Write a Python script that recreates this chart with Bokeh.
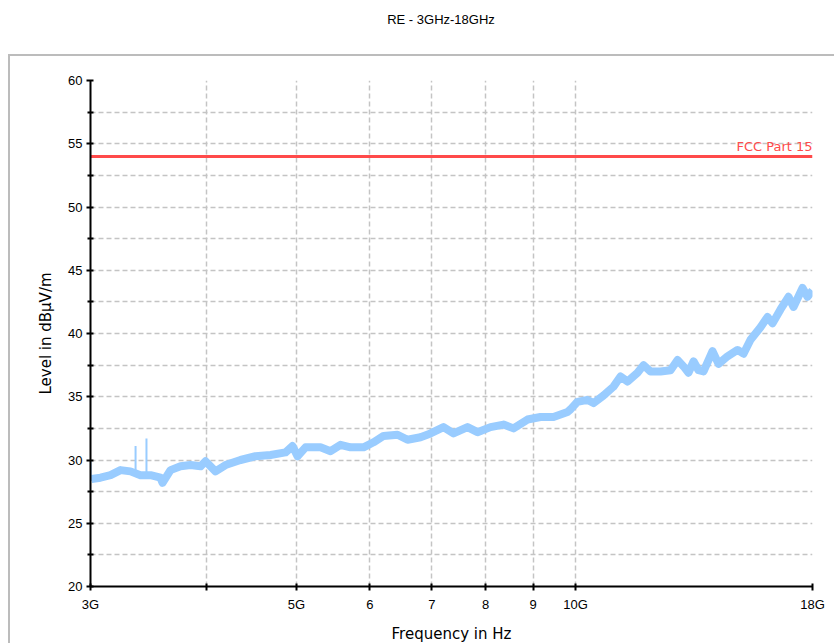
from bokeh.plotting import figure
from bokeh.models import Div, FixedTicker, Label, Range1d
from bokeh.layouts import column
from bokeh.embed import file_html
from bokeh.resources import INLINE

# ---- data ----
title_text = "RE - 3GHz-18GHz"
freq_ghz = [3.000, 3.0075, 3.075, 3.153, 3.232, 3.313, 3.396, 3.482, 3.569, 3.587,
            3.659, 3.751, 3.845, 3.942, 3.991, 4.091, 4.194, 4.353, 4.518, 4.690,
            4.867, 4.953, 5.015, 5.115, 5.309, 5.443, 5.579, 5.720, 5.907, 6.056,
            6.208, 6.427, 6.589, 6.805, 6.976, 7.204, 7.385, 7.646, 7.838, 8.095,
            8.361, 8.571, 8.874, 9.165, 9.465, 9.800, 9.873, 10.046, 10.299, 10.453,
            10.716, 10.985, 11.178, 11.374, 11.660, 11.835, 12.042, 12.345, 12.655, 12.877,
            13.070, 13.233, 13.398, 13.565, 13.735, 14.045, 14.256, 14.578, 14.944, 15.168,
            15.434, 15.822, 16.099, 16.300, 16.626, 16.959, 17.171, 17.559, 17.778, 18.000]
level_dbuv = [28.4, 28.5, 28.6, 28.8, 29.2, 29.1, 28.8, 28.8, 28.6, 28.2,
              29.2, 29.5, 29.6, 29.5, 29.9, 29.1, 29.6, 30.0, 30.3, 30.4,
              30.6, 31.1, 30.3, 31.0, 31.0, 30.7, 31.2, 31.0, 31.0, 31.4,
              31.9, 32.0, 31.6, 31.8, 32.1, 32.6, 32.1, 32.6, 32.2, 32.6,
              32.8, 32.5, 33.2, 33.4, 33.4, 33.8, 34.0, 34.6, 34.75, 34.5,
              35.1, 35.8, 36.6, 36.2, 36.9, 37.5, 37.0, 37.0, 37.1, 37.9,
              37.4, 36.9, 37.8, 37.1, 37.0, 38.6, 37.6, 38.2, 38.7, 38.4,
              39.5, 40.5, 41.3, 40.8, 41.9, 42.9, 42.1, 43.6, 42.9, 43.4]
spike_freq = [3.0, 3.355, 3.447]
spike_top = [30.0, 31.1, 31.7]
spike_base = [28.4, 28.9, 28.9]
limit_name = "FCC Part 15"
limit_level = 54.0
x_ticks = [3, 4, 5, 6, 7, 8, 9, 10, 18]
x_tick_labels = ["3G", "", "5G", "6", "7", "8", "9", "10G", "18G"]
y_ticks = [20, 25, 30, 35, 40, 45, 50, 55, 60]
y_minor_ticks = [22.5, 27.5, 32.5, 37.5, 42.5, 47.5, 52.5, 57.5]
x_label = "Frequency in Hz"
y_label = "Level in dB\u00b5V/m"

FONT = "Liberation Sans"
LFONT = "DejaVu Sans"
GRID = "#c4c4c4"

title_div = Div(text=title_text, width=826, height=46, margin=(0, 0, 0, 0),
                styles={"text-align": "center", "font-family": FONT, "font-size": "13px",
                        "padding-top": "3px", "padding-left": "40px",
                        "box-sizing": "border-box", "color": "#000000", "width": "826px"})

p = figure(width=826, height=589, x_axis_type="log",
           x_range=Range1d(x_ticks[0], x_ticks[-1]), y_range=Range1d(y_ticks[0], y_ticks[-1]),
           output_backend="svg", toolbar_location=None, margin=(0, 0, 0, 0),
           min_border_left=80, min_border_right=24, min_border_top=24, min_border_bottom=56)
p.styles = {"border-top": "2px solid #bcbcbc", "border-left": "2px solid #bcbcbc"}
p.outline_line_color = None
p.background_fill_color = "white"
p.border_fill_color = "white"

# axes
p.xaxis.ticker = FixedTicker(ticks=x_ticks, minor_ticks=[])
p.xaxis.major_label_overrides = {float(t): l for t, l in zip(x_ticks, x_tick_labels)}
p.yaxis.ticker = FixedTicker(ticks=y_ticks, minor_ticks=y_minor_ticks)
for ax in (p.xaxis[0], p.yaxis[0]):
    ax.axis_line_color = "black"
    ax.axis_line_width = 2
    ax.major_tick_line_color = "black"
    ax.major_tick_line_width = 2
    ax.major_tick_in = 3
    ax.major_tick_out = 4
    ax.minor_tick_line_color = "black"
    ax.minor_tick_line_width = 2
    ax.minor_tick_in = 3
    ax.minor_tick_out = 3
    ax.major_label_text_font = FONT
    ax.major_label_text_font_size = "13px"
    ax.major_label_text_color = "black"
    ax.axis_label_text_font = LFONT
    ax.axis_label_text_font_size = "15px"
    ax.axis_label_text_font_style = "normal"
    ax.axis_label_text_color = "black"
p.xaxis.axis_label = x_label
p.yaxis.axis_label = y_label
p.xaxis.major_label_standoff = 6
p.yaxis.major_label_standoff = 4
p.xaxis.axis_label_standoff = 10
p.yaxis.axis_label_standoff = 10

# grids
p.xgrid.ticker = FixedTicker(ticks=x_ticks)
p.ygrid.ticker = FixedTicker(ticks=y_ticks, minor_ticks=y_minor_ticks)
for g in (p.xgrid[0], p.ygrid[0]):
    g.grid_line_color = GRID
    g.grid_line_dash = "5 3"
    g.grid_line_width = 1.5
p.ygrid.minor_grid_line_color = GRID
p.ygrid.minor_grid_line_dash = "5 3"
p.ygrid.minor_grid_line_width = 1.5

# measurement trace
p.line(freq_ghz, level_dbuv, line_color="#99ccff", line_width=8, line_join="round")
p.segment(x0=spike_freq, y0=spike_base, x1=spike_freq, y1=spike_top,
          line_color="#99ccff", line_width=2)

# limit line
p.line([x_ticks[0], x_ticks[-1]], [limit_level, limit_level], line_color="#ff4a4a", line_width=3)
p.add_layout(Label(x=x_ticks[-1], y=limit_level, text=limit_name, text_align="right",
                   text_baseline="bottom", y_offset=2, x_offset=0, text_font=LFONT,
                   text_font_size="13px", text_color="#ff4a4a"))

layout = column(title_div, p, spacing=0, margin=(8, 0, 0, 8))
open("out.html", "w").write(file_html(layout, INLINE))
